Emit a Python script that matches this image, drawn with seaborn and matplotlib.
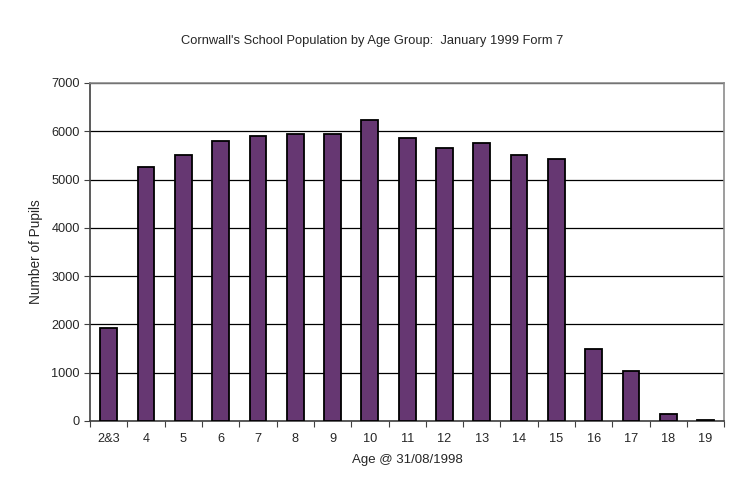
import numpy as np
import pandas as pd
import matplotlib
matplotlib.use("Agg")
import matplotlib.pyplot as plt
import seaborn as sns

# Datos
edades = ["2&3", "4", "5", "6", "7", "8", "9", "10", "11", "12",
          "13", "14", "15", "16", "17", "18", "19"]
alumnos = [1930, 5255, 5510, 5800, 5905, 5950, 5950, 6230, 5862, 5650,
           5760, 5500, 5435, 1500, 1045, 150, 20]

df = pd.DataFrame({"edad": edades, "alumnos": alumnos})

sns.set_style("white")
plt.rcParams["font.family"] = ["Liberation Sans", "DejaVu Sans"]

fig, ax = plt.subplots(figsize=(7.39, 4.97), dpi=100)
fig.subplots_adjust(left=0.122, right=0.98, top=0.833, bottom=0.153)

sns.barplot(data=df, x="edad", y="alumnos", color="#663772", saturation=1,
            width=0.45, edgecolor="black", linewidth=1.3, ax=ax, zorder=3)

ax.set_ylim(0, 7000)
ax.set_xlim(-0.5, len(edades) - 0.5)
ax.set_yticks(np.arange(0, 7001, 1000))
ax.yaxis.grid(True, color="black", linewidth=0.9, zorder=0)
ax.set_axisbelow(True)

# ticks entre categorias
ax.set_xticks(np.arange(-0.5, len(edades), 1), minor=True)
ax.tick_params(axis="x", which="major", length=0, labelsize=9.2, pad=9)
ax.tick_params(axis="x", which="minor", length=4, width=0.8, color="#404040", direction="out")
ax.tick_params(axis="y", length=4, width=0.8, color="#404040", direction="out", labelsize=9.2)
ax.tick_params(axis="both", bottom=True, left=True)
ax.tick_params(axis="x", which="minor", bottom=True)

for lado in ["top", "right"]:
    ax.spines[lado].set_color("#8c8c8c")
    ax.spines[lado].set_linewidth(1.2)
for lado in ["left", "bottom"]:
    ax.spines[lado].set_color("#404040")
    ax.spines[lado].set_linewidth(1.2)

ax.set_xlabel("Age @ 31/08/1998", fontsize=9.5, labelpad=6)
ax.set_ylabel("Number of Pupils", fontsize=9.8, labelpad=6)
fig.suptitle("Cornwall's School Population by Age Group:  January 1999 Form 7",
             fontsize=9.3, x=0.503, y=0.93)

plt.savefig("out.png", dpi=100)
plt.close()
